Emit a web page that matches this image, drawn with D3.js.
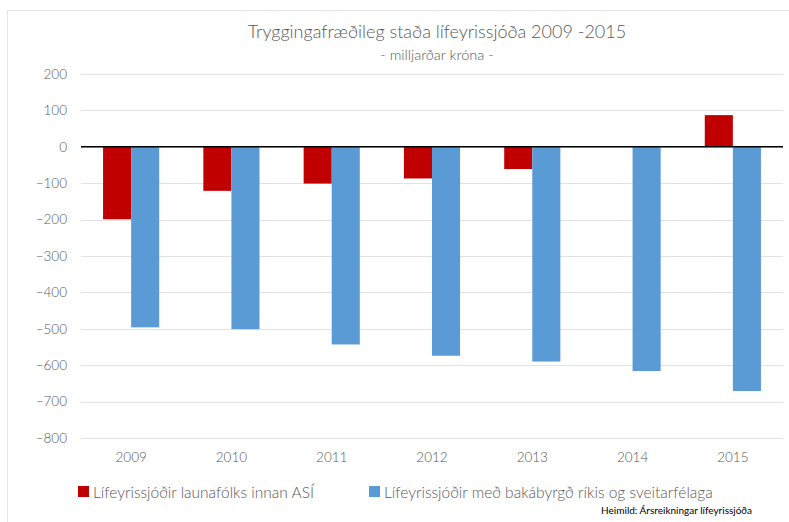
<!DOCTYPE html>
<html>
<head>
<meta charset="utf-8">
<script src="https://cdn.jsdelivr.net/npm/d3@7"></script>
<style>
  body { margin: 0; background: #fff; }
  text { font-family: Lato, "Open Sans", sans-serif; }
</style>
</head>
<body>
<script>
var years = ['2009', '2010', '2011', '2012', '2013', '2014', '2015'];
var asiValues = [-199, -121, -101, -87, -61, 0, 87];
var publicValues = [-496, -501, -543, -574, -590, -616, -671];
var seriesNames = ['Lífeyrissjóðir launafólks innan ASÍ', 'Lífeyrissjóðir með bakábyrgð ríkis og sveitarfélaga'];
var seriesColors = ['#c00000', '#5b9bd5'];
var yTicks = [200, 100, 0, -100, -200, -300, -400, -500, -600, -700, -800];

var W = 789, H = 522;
var margin = {top: 74, right: 6, bottom: 84, left: 81}
, width = W - margin.left - margin.right
, height = H - margin.top - margin.bottom;

var svg = d3.select('body').append('svg')
    .attr('width', W)
    .attr('height', H);

// chart frame
svg.append('rect')
    .attr('x', 7.5).attr('y', 10.5)
    .attr('width', 800).attr('height', 540)
    .attr('fill', 'none')
    .attr('stroke', '#e4e4e4');

var x = d3.scaleBand().domain(years).range([0, width]).paddingInner(0.44).paddingOuter(0.22);
var x1 = d3.scaleBand().domain([0, 1]).range([0, x.bandwidth()]);
var y = d3.scaleLinear().domain([-800, 200]).range([height, 0]);

var main = svg.append('g')
    .attr('transform', 'translate(' + margin.left + ',' + margin.top + ')');

// gridlines
main.append('g').selectAll('line')
    .data(yTicks)
    .enter().append('line')
    .attr('x1', 0).attr('x2', width)
    .attr('y1', function (d) { return Math.round(y(d)) + 0.5; })
    .attr('y2', function (d) { return Math.round(y(d)) + 0.5; })
    .attr('stroke', '#e2e2e2');

var yAxis = d3.axisLeft(y).tickValues(yTicks).tickSize(0).tickPadding(14);
var ya = main.append('g').call(yAxis);
ya.select('.domain').remove();
ya.selectAll('text').attr('fill', '#595959').style('font-size', '13.5px').style('font-weight', 300);

var groups = [asiValues, publicValues];
groups.forEach(function (vals, s) {
  main.append('g').selectAll('rect')
      .data(vals)
      .enter().append('rect')
      .attr('x', function (d, i) { return x(years[i]) + x1(s); })
      .attr('width', x1.bandwidth())
      .attr('y', function (d) { return y(Math.max(0, d)); })
      .attr('height', function (d) { return Math.abs(y(d) - y(0)); })
      .attr('fill', seriesColors[s]);
});

// zero line
main.append('line')
    .attr('x1', 0).attr('x2', width)
    .attr('y1', y(0)).attr('y2', y(0))
    .attr('stroke', '#000').attr('stroke-width', 1.5);

var xAxis = d3.axisBottom(x).tickSize(0).tickPadding(14);
var xa = main.append('g').attr('transform', 'translate(0,' + height + ')').call(xAxis);
xa.select('.domain').remove();
xa.selectAll('text').attr('fill', '#595959').style('font-size', '13.5px').style('font-weight', 300);

svg.append('text')
    .attr('x', 437).attr('y', 38)
    .attr('text-anchor', 'middle')
    .attr('fill', '#595959')
    .style('font-size', '18px')
    .style('font-weight', 300)
    .text('Tryggingafræðileg staða lífeyrissjóða 2009 -2015');
svg.append('text')
    .attr('x', 437).attr('y', 60)
    .attr('text-anchor', 'middle')
    .attr('fill', '#595959')
    .style('font-size', '14.5px')
    .style('font-weight', 300)
    .text('- milljarðar króna -');

// legend
var legendX = [78, 369];
seriesNames.forEach(function (name, s) {
  var g = svg.append('g').attr('transform', 'translate(' + legendX[s] + ',486)');
  g.append('rect').attr('x', 0).attr('y', 0).attr('width', 11).attr('height', 11).attr('fill', seriesColors[s]);
  g.append('text').attr('x', 15).attr('y', 11.5).attr('fill', '#595959')
      .style('font-size', '15.5px').style('font-weight', 300).text(name);
});

svg.append('text')
    .attr('x', 752).attr('y', 514)
    .attr('text-anchor', 'end')
    .attr('fill', '#000')
    .style('font-size', '10px')
    .text('Heimild: Ársreikningar lífeyrissjóða');
</script>
</body>
</html>
